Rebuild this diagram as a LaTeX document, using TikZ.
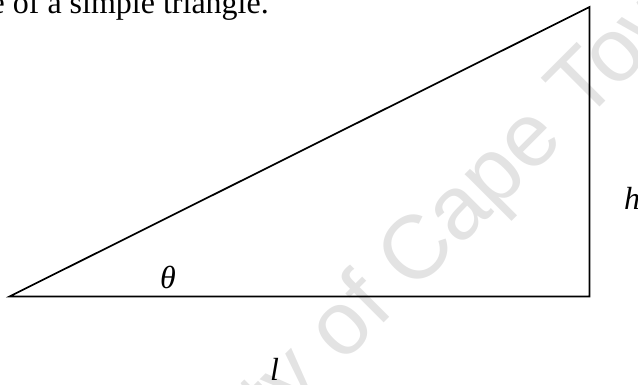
\documentclass[tikz,border=0pt]{standalone}
\usepackage{fontspec}
\setmainfont{Liberation Serif}
\newfontfamily\wmfont{Liberation Sans}
\begin{document}
\begin{tikzpicture}[x=1pt,y=-1pt,
  edge/.style={line width=1.7pt, line join=miter, black},
  lbl/.style={inner sep=0pt, font=\fontsize{32}{38}\selectfont\itshape},
  wmark/.style={inner sep=0pt, rotate=45, anchor=base, text=black!11, font=\wmfont\fontsize{90}{100}\selectfont}]
\useasboundingbox (0,0) rectangle (638,385);
\clip (0,0) rectangle (638,385);
% watermark
\node[wmark] (wm) at (389,318) {University of Cape Town};
% caption fragment
\node[inner sep=0pt, anchor=base east, font=\fontsize{32}{38}\selectfont] (cap) at (269,13.5) {e of a simple triangle.};
% triangle
\coordinate (A) at (9.5,296.5);
\coordinate (B) at (589.5,296.5);
\coordinate (C) at (589.5,7);
\draw[edge] (A) -- (B) -- (C) -- cycle;
% labels
\node[lbl, anchor=center] (theta) at (168,277) {θ};
\node[lbl, anchor=base west] (h) at (624,210) {h};
\node[lbl, anchor=base west] (l) at (270,380) {l};
\end{tikzpicture}
\end{document}
